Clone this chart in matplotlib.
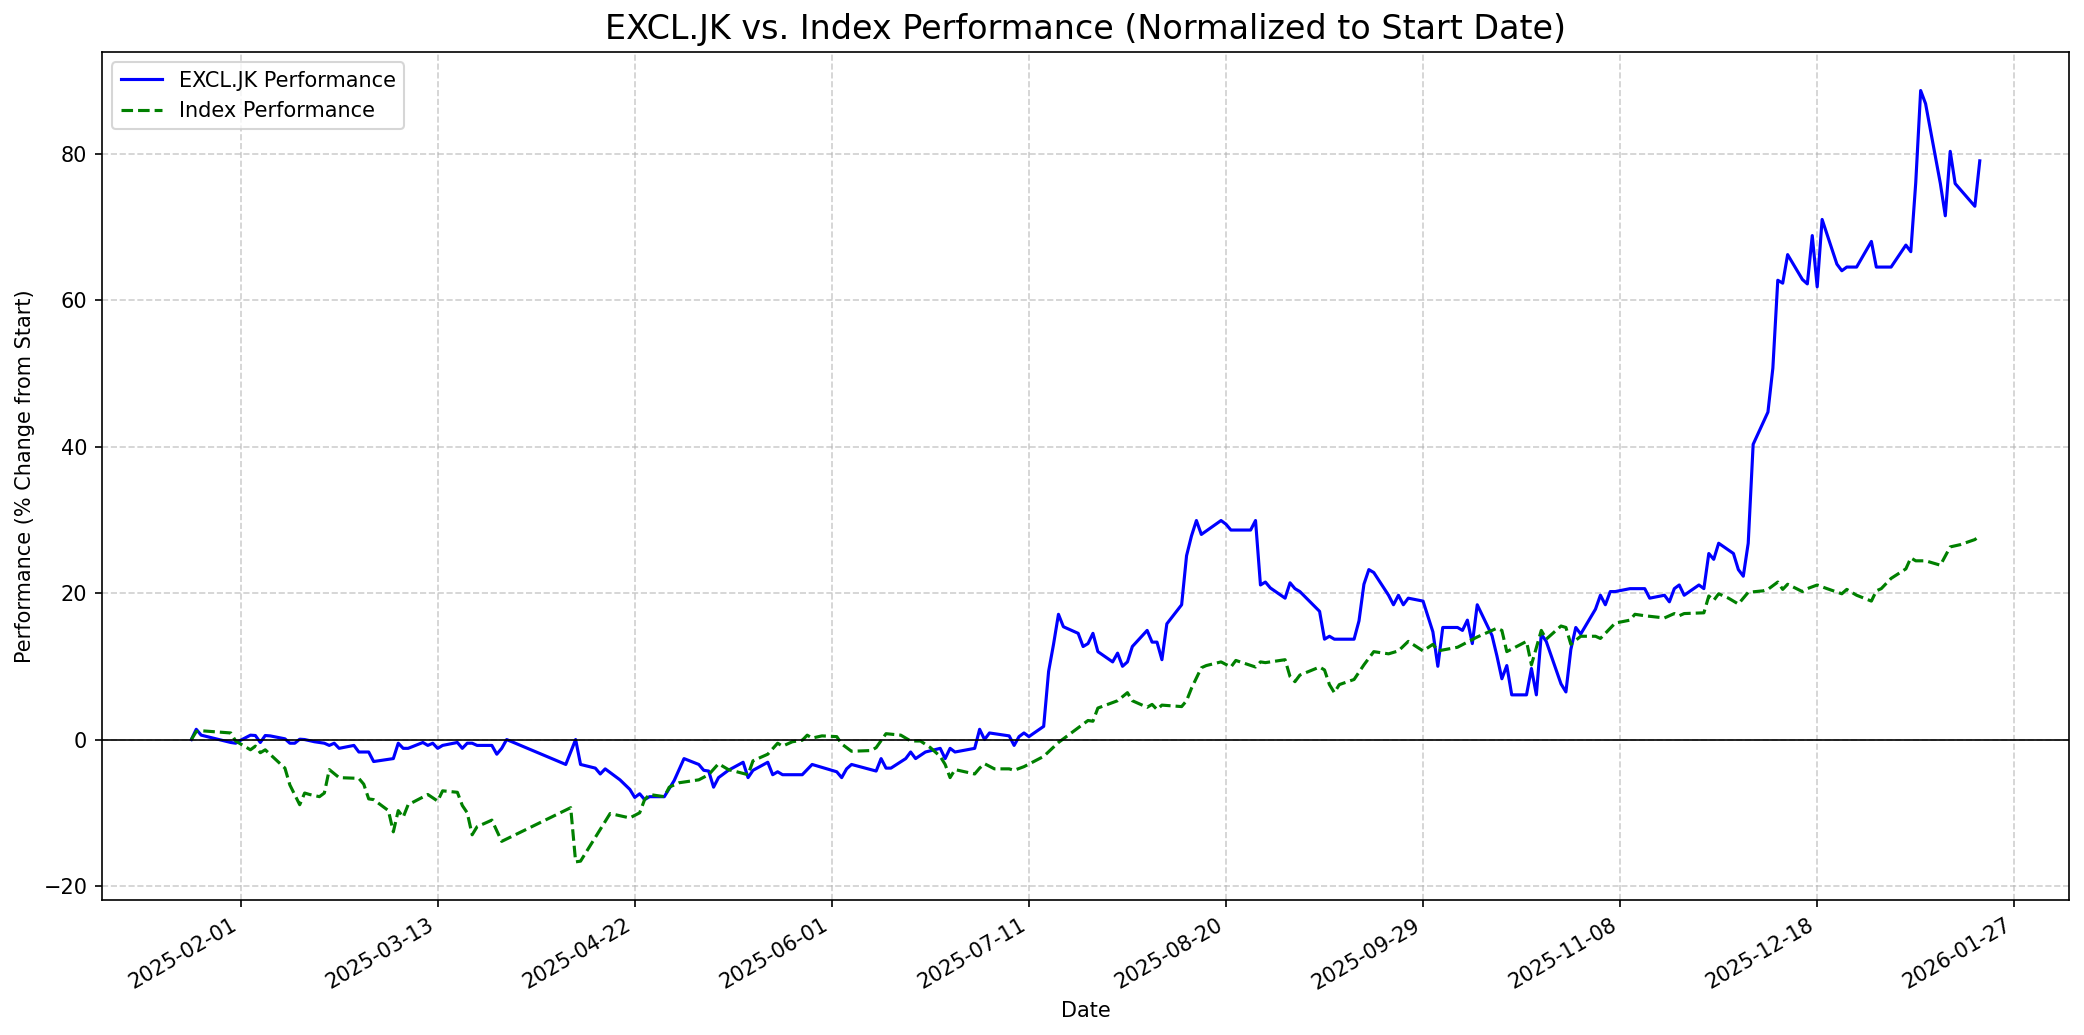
from datetime import date, timedelta

import matplotlib

matplotlib.use("Agg")
import matplotlib.dates as mdates
import matplotlib.pyplot as plt

TICKER = "EXCL.JK"
START = date(2025, 2, 1)

# days relative to 2025-02-01, value = % change from start
excl_days = [
    -10, -9, -8, -2, -1, 0, 2, 3, 4, 5, 6, 9, 10, 11, 12, 13, 15, 17, 18, 19,
    20, 23, 24, 26, 27, 31, 32, 33, 34, 37, 38, 39, 40, 41, 44, 45, 46, 47, 48, 51,
    52, 53, 54, 66, 68, 69, 72, 73, 74, 77, 79, 80, 81, 82, 83, 86, 88, 90, 93, 94,
    95, 96, 97, 99, 102, 103, 104, 107, 108, 109, 110, 114, 116, 121, 122, 123, 124, 129, 130, 131,
    132, 135, 136, 137, 139, 142, 143, 144, 145, 149, 150, 151, 152, 156, 157, 158, 159, 160, 163, 164,
    165, 166, 167, 170, 171, 172, 173, 174, 177, 178, 179, 180, 181, 184, 185, 186, 187, 188, 191, 192,
    193, 194, 195, 199, 200, 201, 205, 206, 207, 208, 209, 212, 213, 214, 215, 219, 220, 221, 222, 226,
    227, 228, 229, 230, 233, 234, 235, 236, 237, 240, 242, 243, 244, 247, 248, 249, 250, 251, 254, 255,
    256, 257, 258, 261, 262, 263, 264, 265, 268, 269, 270, 271, 272, 275, 276, 277, 278, 279, 282, 285,
    286, 289, 290, 291, 292, 293, 296, 297, 298, 299, 300, 303, 304, 305, 306, 307, 310, 311, 312, 313,
    314, 317, 318, 319, 320, 321, 324, 325, 326, 328, 331, 332, 335, 338, 339, 340, 341, 342, 345, 346,
    347, 348, 352, 353,
]
excl_perf = [
    0.0, 1.4, 0.6, -0.4, -0.5, -0.1, 0.6, 0.55, -0.4, 0.55, 0.5, 0.1, -0.5, -0.5, 0.05, 0.0, -0.3, -0.5, -0.8, -0.5,
    -1.2, -0.8, -1.7, -1.7, -3.0, -2.6, -0.5, -1.2, -1.2, -0.4, -0.8, -0.5, -1.2, -0.8, -0.4, -1.2, -0.5, -0.5, -0.8, -0.8,
    -2.0, -1.2, 0.0, -3.4, 0.0, -3.4, -3.9, -4.7, -4.0, -5.5, -6.8, -7.9, -7.4, -8.2, -7.8, -7.8, -5.6, -2.6, -3.4, -4.2,
    -4.3, -6.5, -5.2, -4.2, -3.1, -5.2, -4.2, -3.1, -4.8, -4.4, -4.8, -4.8, -3.4, -4.4, -5.2, -4.0, -3.4, -4.3, -2.6, -3.9,
    -3.9, -2.6, -1.7, -2.6, -1.7, -1.2, -2.6, -1.2, -1.7, -1.2, 1.4, 0.0, 0.9, 0.5, -0.8, 0.4, 0.9, 0.4, 1.8, 9.3,
    13.0, 17.1, 15.4, 14.5, 12.7, 13.1, 14.5, 12.0, 10.6, 11.8, 10.0, 10.6, 12.7, 14.9, 13.3, 13.3, 10.9, 15.8, 18.4, 25.1,
    27.8, 29.9, 28.0, 29.9, 29.4, 28.6, 28.6, 29.9, 21.1, 21.5, 20.7, 19.3, 21.4, 20.6, 20.2, 17.5, 13.7, 14.1, 13.7, 13.7,
    16.2, 21.2, 23.2, 22.8, 19.7, 18.4, 19.7, 18.4, 19.3, 18.9, 14.7, 10.0, 15.3, 15.3, 14.9, 16.3, 13.1, 18.4, 14.2, 11.4,
    8.3, 10.1, 6.1, 6.1, 9.7, 6.1, 14.4, 13.4, 7.6, 6.5, 12.3, 15.3, 14.4, 17.8, 19.7, 18.4, 20.2, 20.2, 20.6, 20.6,
    19.3, 19.7, 18.8, 20.6, 21.1, 19.7, 21.1, 20.6, 25.4, 24.6, 26.8, 25.4, 23.2, 22.3, 26.8, 40.3, 44.7, 50.7, 62.7, 62.3,
    66.2, 62.8, 62.2, 68.8, 61.8, 71.0, 64.9, 64.0, 64.5, 64.5, 68.0, 64.5, 64.5, 67.5, 66.6, 76.0, 88.6, 86.8, 75.9, 71.5,
    80.3, 75.9, 72.8, 79.0,
]

index_days = [
    -10, -9, -8, -2, -1, 2, 3, 4, 5, 9, 10, 12, 13, 14, 16, 17, 18, 20, 24, 25,
    26, 27, 30, 31, 32, 33, 34, 38, 40, 41, 44, 45, 46, 47, 48, 51, 53, 67, 68, 69,
    75, 79, 81, 82, 83, 86, 87, 89, 93, 95, 97, 99, 103, 104, 107, 109, 110, 112, 114, 115,
    116, 118, 121, 122, 124, 128, 129, 131, 134, 136, 138, 140, 142, 143, 144, 145, 149, 150, 151, 153,
    156, 157, 159, 163, 166, 168, 170, 172, 173, 174, 178, 180, 181, 184, 185, 186, 187, 191, 192, 193,
    195, 196, 199, 201, 202, 206, 207, 208, 212, 213, 214, 215, 219, 220, 221, 222, 223, 226, 228, 230,
    231, 233, 235, 237, 240, 242, 243, 247, 251, 255, 256, 257, 261, 262, 264, 265, 268, 269, 270, 272,
    275, 276, 279, 282, 283, 285, 289, 291, 292, 293, 297, 298, 299, 300, 302, 304, 306, 309, 310, 312,
    313, 314, 317, 318, 320, 322, 325, 326, 328, 331, 332, 333, 335, 338, 339, 340, 342, 345, 347, 349,
    352, 353,
]
index_perf = [
    0.0, 1.1, 1.2, 0.9, -0.2, -1.4, -0.9, -1.8, -1.4, -3.9, -6.2, -8.9, -7.3, -7.5, -7.8, -7.3, -4.1, -5.2, -5.3, -6.1,
    -8.1, -8.2, -9.7, -12.6, -9.7, -10.6, -8.9, -7.5, -8.4, -7.0, -7.2, -9.0, -10.0, -13.0, -11.9, -11.0, -13.9, -9.3, -16.7, -16.6,
    -10.1, -10.7, -10.0, -8.2, -7.5, -7.8, -6.5, -5.9, -5.5, -4.8, -3.3, -4.1, -4.8, -2.9, -2.0, -0.5, -0.9, -0.3, -0.1, 0.6,
    0.2, 0.5, 0.4, -0.6, -1.6, -1.5, -1.1, 0.8, 0.6, -0.2, -0.2, -1.1, -2.3, -3.4, -5.2, -4.1, -4.7, -3.9, -3.3, -4.0,
    -4.0, -4.2, -3.7, -2.3, -0.4, 0.6, 1.6, 2.6, 2.5, 4.3, 5.3, 6.4, 5.3, 4.4, 4.8, 4.1, 4.7, 4.5, 5.3, 7.0,
    9.8, 10.1, 10.6, 9.9, 10.8, 9.9, 10.6, 10.5, 10.9, 8.6, 7.9, 8.8, 9.9, 9.5, 7.5, 6.4, 7.5, 8.2, 10.2, 12.0,
    11.9, 11.7, 12.1, 13.4, 12.1, 13.0, 12.1, 12.6, 14.0, 15.2, 14.9, 12.0, 13.4, 10.2, 14.9, 13.7, 15.5, 15.3, 13.0, 14.1,
    14.1, 13.8, 15.9, 16.3, 17.1, 16.9, 16.6, 17.2, 16.9, 17.2, 17.3, 19.6, 19.0, 19.9, 19.3, 18.5, 20.1, 20.3, 20.5, 21.5,
    20.5, 21.2, 20.2, 20.6, 21.1, 20.6, 19.9, 20.5, 19.7, 18.9, 20.3, 20.6, 22.0, 23.3, 24.8, 24.4, 24.4, 23.8, 26.3, 26.6,
    27.3, 27.8,
]

tick_dates = [
    "2025-02-01", "2025-03-13", "2025-04-22", "2025-06-01", "2025-07-11",
    "2025-08-20", "2025-09-29", "2025-11-08", "2025-12-18", "2026-01-27",
]


def to_dates(days):
    return [START + timedelta(days=d) for d in days]


def main():
    fig = plt.figure(figsize=(2084 / 150, 1035 / 150), dpi=150)
    ax = fig.add_axes([0.0489, 0.1300, 0.9440, 0.8198])

    ax.plot(to_dates(excl_days), excl_perf, color="blue", label=f"{TICKER} Performance")
    ax.plot(to_dates(index_days), index_perf, color="green", linestyle="--",
            label="Index Performance")
    ax.axhline(0, color="black", linewidth=0.8)

    ticks = [date.fromisoformat(t) for t in tick_dates]
    ax.set_xticks(ticks)
    ax.xaxis.set_major_formatter(mdates.DateFormatter("%Y-%m-%d"))
    for lbl in ax.get_xticklabels():
        lbl.set_rotation(30)
        lbl.set_horizontalalignment("right")

    ax.set_title(f"{TICKER} vs. Index Performance (Normalized to Start Date)", fontsize=16)
    ax.set_xlabel("Date")
    ax.set_ylabel("Performance (% Change from Start)")
    ax.grid(True, linestyle="--", alpha=0.6)
    ax.legend(loc="upper left")

    fig.savefig("out.png", dpi=150)


if __name__ == "__main__":
    main()
